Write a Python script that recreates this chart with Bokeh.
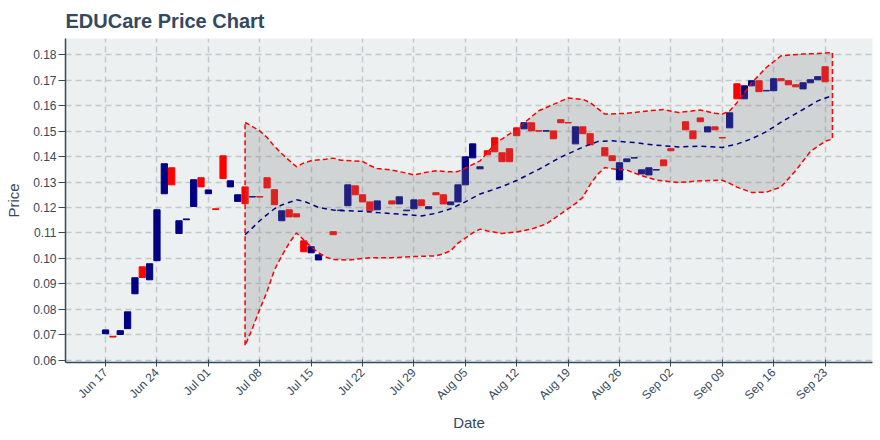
import pandas as pd
from math import pi
from datetime import datetime
from bokeh.plotting import figure
from bokeh.models import Range1d, FixedTicker, DatetimeTickFormatter, NumeralTickFormatter
from bokeh.embed import file_html
from bokeh.resources import INLINE

# ---------------- data ----------------
candle_dates = [
    "2019-06-17", "2019-06-18", "2019-06-19", "2019-06-20", "2019-06-21", "2019-06-22", "2019-06-23",
    "2019-06-24", "2019-06-25", "2019-06-26", "2019-06-27", "2019-06-28", "2019-06-29", "2019-06-30",
    "2019-07-01", "2019-07-02", "2019-07-03", "2019-07-04", "2019-07-05", "2019-07-06", "2019-07-07",
    "2019-07-08", "2019-07-09", "2019-07-10", "2019-07-11", "2019-07-12", "2019-07-13", "2019-07-14",
    "2019-07-15", "2019-07-16", "2019-07-18", "2019-07-19", "2019-07-20", "2019-07-21",
    "2019-07-22", "2019-07-23", "2019-07-24", "2019-07-26", "2019-07-27", "2019-07-28",
    "2019-07-29", "2019-07-30", "2019-07-31", "2019-08-01", "2019-08-02", "2019-08-03", "2019-08-04",
    "2019-08-05", "2019-08-06", "2019-08-07", "2019-08-08", "2019-08-09", "2019-08-10", "2019-08-11",
    "2019-08-12", "2019-08-13", "2019-08-14", "2019-08-15", "2019-08-16", "2019-08-17", "2019-08-18",
    "2019-08-19", "2019-08-20", "2019-08-21", "2019-08-22", "2019-08-24", "2019-08-25",
    "2019-08-26", "2019-08-27", "2019-08-28", "2019-08-29", "2019-08-30", "2019-08-31", "2019-09-01",
    "2019-09-02", "2019-09-04", "2019-09-05", "2019-09-06", "2019-09-07", "2019-09-08",
    "2019-09-09", "2019-09-10", "2019-09-11", "2019-09-12", "2019-09-13", "2019-09-14", "2019-09-15",
    "2019-09-16", "2019-09-17", "2019-09-18", "2019-09-19", "2019-09-20", "2019-09-21", "2019-09-22",
    "2019-09-23",
]
opens = [
    0.0704, 0.0694, 0.0701, 0.0724, 0.0861, 0.0967, 0.0916,
    0.0991, 0.1254, 0.1356, 0.1098, 0.1152, 0.1204, 0.1317,
    0.1254, 0.1195, 0.1403, 0.1281, 0.1224, 0.1281, 0.1241,
    0.1243, 0.1317, 0.1270, 0.1148, 0.1191, 0.1175, 0.1069,
    0.1022, 0.0994, 0.1105, 0.1188, 0.1207, 0.1285,
    0.1250, 0.1222, 0.1191, 0.1226, 0.1214, 0.1187,
    0.1195, 0.1230, 0.1195, 0.1258, 0.1250, 0.1211, 0.1222,
    0.1289, 0.1395, 0.1352, 0.1423, 0.1474, 0.1415, 0.1431,
    0.1513, 0.1509, 0.1533, 0.1502, 0.1500, 0.1501, 0.1545,
    0.1534, 0.1450, 0.1517, 0.1490, 0.1435, 0.1403,
    0.1309, 0.1380, 0.1394, 0.1332, 0.1328, 0.1347, 0.1387,
    0.1431, 0.1537, 0.1501, 0.1552, 0.1497, 0.1517,
    0.1475, 0.1513, 0.1686, 0.1627, 0.1678, 0.1698, 0.1658,
    0.1659, 0.1706, 0.1698, 0.1682, 0.1666, 0.1690, 0.1702,
    0.1753,
]
closes = [
    0.0719, 0.0691, 0.0716, 0.0790, 0.0924, 0.0925, 0.0979,
    0.1191, 0.1372, 0.1289, 0.1148, 0.1155, 0.1309, 0.1281,
    0.1269, 0.1192, 0.1314, 0.1305, 0.1250, 0.1215, 0.1243,
    0.1241, 0.1277, 0.1211, 0.1187, 0.1163, 0.1163, 0.1026,
    0.1046, 0.1014, 0.1093, 0.1190, 0.1289, 0.1250,
    0.1222, 0.1187, 0.1226, 0.1214, 0.1242, 0.1190,
    0.1230, 0.1207, 0.1203, 0.1250, 0.1214, 0.1222, 0.1289,
    0.1399, 0.1450, 0.1360, 0.1407, 0.1419, 0.1380, 0.1380,
    0.1482, 0.1533, 0.1501, 0.1500, 0.1502, 0.1470, 0.1533,
    0.1532, 0.1517, 0.1490, 0.1446, 0.1403, 0.1384,
    0.1376, 0.1391, 0.1396, 0.1348, 0.1356, 0.1349, 0.1364,
    0.1423, 0.1505, 0.1470, 0.1537, 0.1517, 0.1505,
    0.1473, 0.1572, 0.1627, 0.1678, 0.1698, 0.1655, 0.1660,
    0.1706, 0.1698, 0.1682, 0.1674, 0.1690, 0.1702, 0.1714,
    0.1694,
]

upper_dates = [
    "2019-07-06", "2019-07-08", "2019-07-09", "2019-07-10", "2019-07-11", "2019-07-12", "2019-07-13",
    "2019-07-14", "2019-07-15", "2019-07-17", "2019-07-18", "2019-07-19", "2019-07-22", "2019-07-23",
    "2019-07-24", "2019-07-26", "2019-07-28", "2019-07-29", "2019-07-31", "2019-08-01", "2019-08-03",
    "2019-08-04", "2019-08-05", "2019-08-07", "2019-08-09", "2019-08-12", "2019-08-15", "2019-08-17",
    "2019-08-19", "2019-08-21", "2019-08-22", "2019-08-24", "2019-08-27", "2019-08-30", "2019-09-01",
    "2019-09-03", "2019-09-06", "2019-09-08", "2019-09-09", "2019-09-10", "2019-09-11", "2019-09-13",
    "2019-09-15", "2019-09-17", "2019-09-20", "2019-09-22", "2019-09-24",
]
upper_vals = [
    0.1534, 0.1501, 0.1475, 0.1440, 0.1411, 0.1385, 0.1360,
    0.1375, 0.1384, 0.1390, 0.1394, 0.1386, 0.1381, 0.1365,
    0.1353, 0.1347, 0.1335, 0.1328, 0.1340, 0.1344, 0.1340,
    0.1341, 0.1355, 0.1383, 0.1449, 0.1508, 0.1580, 0.1605,
    0.1630, 0.1625, 0.1612, 0.1567, 0.1570, 0.1580, 0.1585,
    0.1573, 0.1583, 0.1570, 0.1567, 0.1580, 0.1612, 0.1690,
    0.1750, 0.1796, 0.1803, 0.1805, 0.1809,
]

lower_dates = [
    "2019-07-06", "2019-07-07", "2019-07-08", "2019-07-09", "2019-07-10", "2019-07-11", "2019-07-12",
    "2019-07-13", "2019-07-14", "2019-07-15", "2019-07-16", "2019-07-17", "2019-07-18", "2019-07-20",
    "2019-07-22", "2019-07-23", "2019-07-26", "2019-07-29", "2019-08-01", "2019-08-02", "2019-08-03",
    "2019-08-04", "2019-08-05", "2019-08-06", "2019-08-07", "2019-08-08", "2019-08-10", "2019-08-12",
    "2019-08-14", "2019-08-16", "2019-08-18", "2019-08-20", "2019-08-21", "2019-08-22", "2019-08-23",
    "2019-08-24", "2019-08-25", "2019-08-27", "2019-08-29", "2019-08-31", "2019-09-03", "2019-09-06",
    "2019-09-09", "2019-09-10", "2019-09-11", "2019-09-13", "2019-09-15", "2019-09-17", "2019-09-19",
    "2019-09-21", "2019-09-23", "2019-09-24",
]
lower_vals = [
    0.0657, 0.0725, 0.0800, 0.0870, 0.0955, 0.1010, 0.1060,
    0.1100, 0.1072, 0.1045, 0.1022, 0.1005, 0.0996, 0.0993,
    0.1000, 0.1003, 0.1003, 0.1007, 0.1010, 0.1018, 0.1030,
    0.1060, 0.1080, 0.1100, 0.1115, 0.1108, 0.1098, 0.1104,
    0.1115, 0.1135, 0.1175, 0.1215, 0.1240, 0.1290, 0.1330,
    0.1357, 0.1352, 0.1347, 0.1325, 0.1308, 0.1298, 0.1305,
    0.1307, 0.1295, 0.1280, 0.1259, 0.1260, 0.1281, 0.1345,
    0.1420, 0.1460, 0.1469,
]

mid_dates = [
    "2019-07-06", "2019-07-07", "2019-07-08", "2019-07-09", "2019-07-10", "2019-07-11", "2019-07-13",
    "2019-07-14", "2019-07-15", "2019-07-16", "2019-07-18", "2019-07-20", "2019-07-22", "2019-07-24",
    "2019-07-27", "2019-07-30", "2019-08-01", "2019-08-03", "2019-08-05", "2019-08-07", "2019-08-10",
    "2019-08-12", "2019-08-15", "2019-08-18", "2019-08-21", "2019-08-23", "2019-08-25", "2019-08-28",
    "2019-08-31", "2019-09-03", "2019-09-06", "2019-09-09", "2019-09-11", "2019-09-13", "2019-09-15",
    "2019-09-17", "2019-09-20", "2019-09-22", "2019-09-24",
]
mid_vals = [
    0.1093, 0.1120, 0.1148, 0.1172, 0.1195, 0.1210, 0.1230,
    0.1225, 0.1213, 0.1200, 0.1190, 0.1187, 0.1185, 0.1180,
    0.1174, 0.1167, 0.1177, 0.1195, 0.1222, 0.1253, 0.1282,
    0.1306, 0.1350, 0.1398, 0.1437, 0.1459, 0.1462, 0.1455,
    0.1445, 0.1438, 0.1441, 0.1436, 0.1449, 0.1470, 0.1498,
    0.1535, 0.1585, 0.1619, 0.1640,
]

x_tick_dates = ["2019-06-17", "2019-06-24", "2019-07-01", "2019-07-08", "2019-07-15", "2019-07-22",
                "2019-07-29", "2019-08-05", "2019-08-12", "2019-08-19", "2019-08-26", "2019-09-02",
                "2019-09-09", "2019-09-16", "2019-09-23"]
y_ticks = [0.06, 0.07, 0.08, 0.09, 0.10, 0.11, 0.12, 0.13, 0.14, 0.15, 0.16, 0.17, 0.18]

# ---------------- styling ----------------
TEXT = "#34495e"
FONT = "Liberation Sans"
DAY_MS = 24 * 3600 * 1000

cd = pd.to_datetime(candle_dates)
inc = [c >= o for o, c in zip(opens, closes)]
inc_x = [d for d, f in zip(cd, inc) if f]
inc_top = [max(o, c) for o, c, f in zip(opens, closes, inc) if f]
inc_bot = [min(o, c) for o, c, f in zip(opens, closes, inc) if f]
dec_x = [d for d, f in zip(cd, inc) if not f]
dec_top = [max(o, c) for o, c, f in zip(opens, closes, inc) if not f]
dec_bot = [min(o, c) for o, c, f in zip(opens, closes, inc) if not f]

p = figure(
    width=880, height=440,
    x_axis_type="datetime",
    x_range=Range1d(datetime(2019, 6, 11, 13), datetime(2019, 9, 29, 11)),
    y_range=Range1d(0.0591, 0.1864),
    output_backend="svg", toolbar_location=None,
    min_border_left=65, min_border_right=8, min_border_top=38, min_border_bottom=78,
    background_fill_color="#ecf0f1", border_fill_color="white",
)
p.outline_line_color = None

p.title.text = "EDUCare Price Chart"
p.title.text_font = FONT
p.title.text_font_size = "20px"
p.title.text_font_style = "bold"
p.title.text_color = TEXT
p.title.align = "left"
p.title.standoff = 14

# candles
p.vbar(x=inc_x, width=0.85 * DAY_MS, top=inc_top, bottom=inc_bot,
       fill_color="#000080", line_color="#000080", line_width=1)
p.vbar(x=dec_x, width=0.85 * DAY_MS, top=dec_top, bottom=dec_bot,
       fill_color="#ff0000", line_color="#ff0000", line_width=1)

# bollinger band polygon (drawn over candles, translucent)
ux = list(pd.to_datetime(upper_dates))
lx = list(pd.to_datetime(lower_dates))
band_x = ux + lx[::-1]
band_y = list(upper_vals) + list(lower_vals)[::-1]
p.patch(band_x, band_y, fill_color="#808080", fill_alpha=0.25,
        line_color="#ff0000", line_width=1.5, line_dash="5 3")

p.line(pd.to_datetime(mid_dates), mid_vals, line_color="#000080", line_width=1.5, line_dash="5 4")

# axes
p.xaxis.ticker = FixedTicker(ticks=[pd.Timestamp(d).value // 10**6 for d in x_tick_dates])
p.xaxis.formatter = DatetimeTickFormatter(days="%b %d", months="%b %d", years="%b %d",
                                          hours="%b %d", minutes="%b %d", seconds="%b %d",
                                          milliseconds="%b %d", microseconds="%b %d")
p.xaxis.major_label_orientation = pi / 4
p.yaxis.ticker = FixedTicker(ticks=y_ticks)
p.yaxis.formatter = NumeralTickFormatter(format="0.00")

p.xaxis.axis_label = "Date"
p.yaxis.axis_label = "Price"
for ax in (p.xaxis, p.yaxis):
    ax.axis_label_text_font = FONT
    ax.axis_label_text_font_size = "15px"
    ax.axis_label_text_font_style = "normal"
    ax.axis_label_text_color = TEXT
    ax.major_label_text_font = FONT
    ax.major_label_text_font_size = "12px"
    ax.major_label_text_color = TEXT
    ax.axis_line_color = TEXT
    ax.axis_line_width = 1.5
    ax.major_tick_line_color = TEXT
    ax.minor_tick_line_color = None
p.yaxis.major_tick_in = 0
p.yaxis.major_tick_out = 7
p.yaxis.major_label_standoff = 2
p.yaxis.axis_label_standoff = 8
p.xaxis.major_tick_in = 3
p.xaxis.major_tick_out = 4
p.xaxis.major_label_standoff = 4
p.xaxis.axis_label_standoff = 4

p.grid.grid_line_color = "#c4c8ca"
p.grid.grid_line_width = 1.5
p.grid.grid_line_dash = "6 4"

open("out.html", "w").write(file_html(p, INLINE))
